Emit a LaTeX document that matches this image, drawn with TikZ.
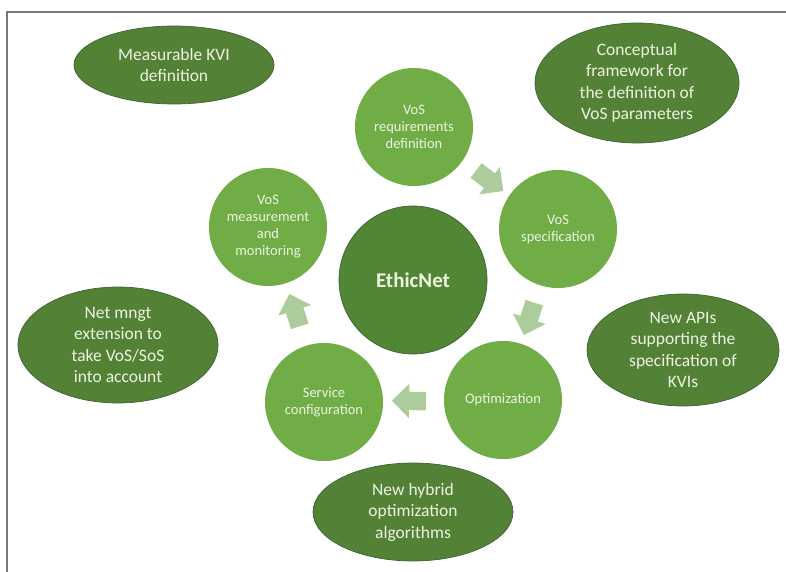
\documentclass[tikz,border=0pt]{standalone}
\usepackage{fontspec}
\setmainfont{Carlito}
\usetikzlibrary{shapes.geometric,shapes.arrows,calc}
\definecolor{lgreen}{RGB}{112,173,71}
\definecolor{dgreen}{RGB}{83,129,53}
\definecolor{cgreen}{RGB}{80,134,52}
\definecolor{edgec}{RGB}{62,98,52}
\definecolor{arrowc}{RGB}{172,205,155}
\definecolor{ltext}{RGB}{236,243,226}
\definecolor{framec}{RGB}{120,120,120}
\begin{document}
\begin{tikzpicture}[x=1pt,y=-1pt,
  stage/.style={circle, fill=lgreen, minimum size=118pt, inner sep=0pt, text=ltext,
    align=center, font=\fontsize{14.5}{17}\selectfont},
  hub/.style={circle, fill=cgreen, draw=edgec, line width=0.7pt, minimum size=148pt,
    inner sep=0pt, text=ltext, font=\fontsize{21}{24}\selectfont\bfseries},
  outcome/.style={ellipse, fill=dgreen, draw=edgec, line width=0.7pt, inner sep=0pt,
    text=ltext, align=center, font=\fontsize{17.5}{21.5}\selectfont},
  blockarrow/.style={single arrow, fill=arrowc, draw=none, inner sep=9pt,
    minimum width=34pt, minimum height=34pt, single arrow head extend=8pt,
    single arrow tip angle=90}
]
\useasboundingbox (0,0) rectangle (786,572);
\draw[framec, line width=1.6pt] (7,572) -- (7,12) -- (786,12);

% outcome ellipses
\node[outcome, minimum width=200pt, minimum height=78pt] (kvi) at (174,65) {Measurable KVI\\definition};
\node[outcome, minimum width=204pt, minimum height=120pt] (conc) at (637,83) {Conceptual\\framework for\\the definition of\\VoS parameters};
\node[outcome, minimum width=200pt, minimum height=116pt] (net) at (118,345) {Net mngt\\extension to\\take VoS/SoS\\into account};
\node[outcome, minimum width=192pt, minimum height=112pt] (api) at (683,350) {New APIs\\supporting the\\specification of\\KVIs};
\node[outcome, minimum width=200pt, minimum height=98pt] (hyb) at (413,512) {New hybrid\\optimization\\algorithms};

% centre
\node[hub] (hub) at (413,280) {EthicNet};

% cycle stages
\node[stage] (req) at (414,127) {VoS\\requirements\\definition};
\node[stage] (spec) at (558,229) {VoS\\specification};
\node[stage] (opt) at (503,400) {Optimization};
\node[stage] (serv) at (324,402) {Service\\configuration};
\node[stage] (meas) at (268,227) {VoS\\measurement\\and\\monitoring};

% block arrows between stages
\node[blockarrow, rotate=-37] (a1) at ($(req)!0.5!(spec)$) {};
\node[blockarrow, rotate=-108] (a2) at ($(spec)!0.5!(opt)$) {};
\node[blockarrow, rotate=179] (a3) at ($(opt)!0.5!(serv)$) {};
\node[blockarrow, rotate=108] (a4) at ($(serv)!0.5!(meas)$) {};
\end{tikzpicture}
\end{document}
